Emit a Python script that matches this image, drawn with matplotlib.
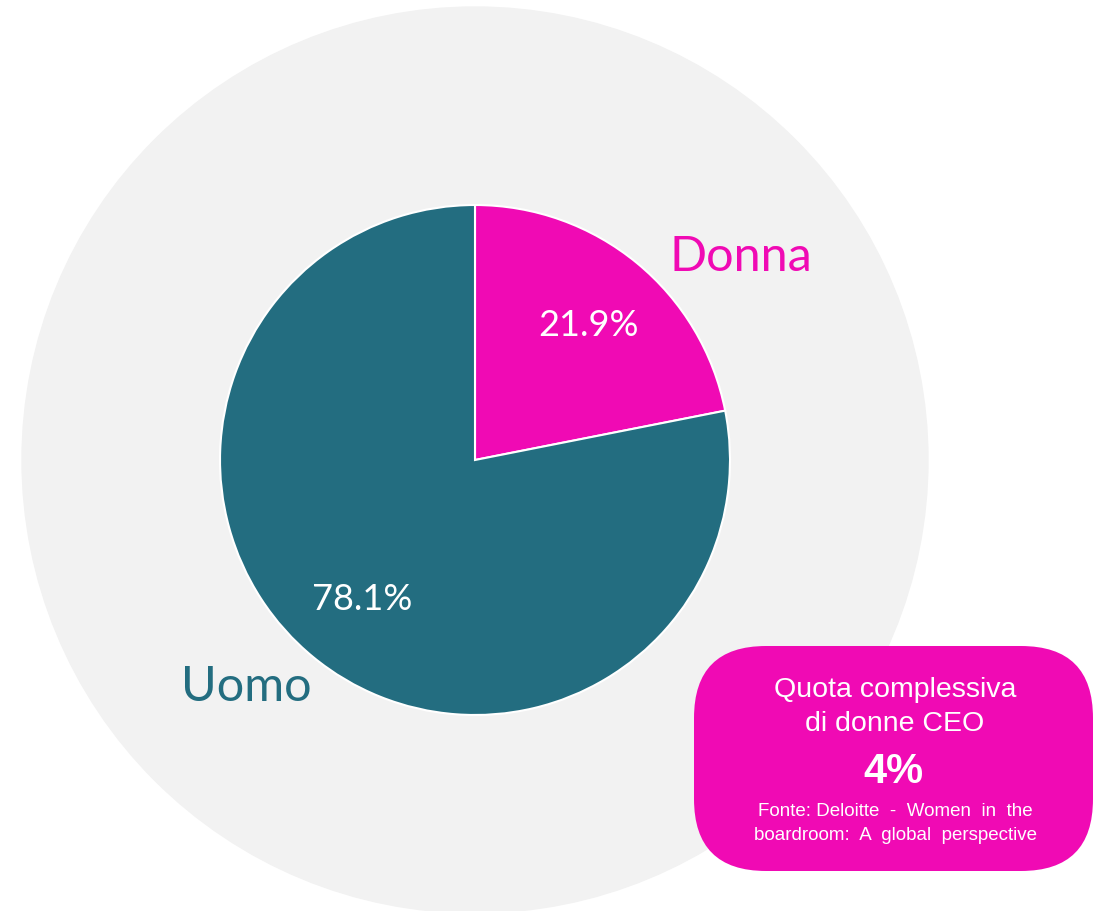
import matplotlib.pyplot as plt
from matplotlib.patches import Circle, FancyBboxPatch

# dati
labels = ["Donna", "Uomo"]
values = [21.9, 78.1]
pct_labels = ["21.9%", "78.1%"]
colors = ["#F00AB4", "#236D80"]

box_lines = ["Quota complessiva", "di donne CEO"]
box_value = "4%"
box_source = ["Fonte: Deloitte  -  Women  in  the", "boardroom:  A  global  perspective"]

W, H = 1099, 911
fig = plt.figure(figsize=(W / 100, H / 100), dpi=100)
ax = fig.add_axes([0, 0, 1, 1])

def py(y):
    # coordinate y dall'alto (pixel) -> asse
    return H - y

# cerchio di sfondo
ax.add_patch(Circle((475, py(460)), 453, color="#F2F2F2", zorder=0))

# torta
wedges, _ = ax.pie(values, colors=colors, startangle=90, counterclock=False,
                   center=(475, py(460)), radius=255,
                   wedgeprops=dict(edgecolor="white", linewidth=1.5))
ax.set_xlim(0, W)
ax.set_ylim(0, H)
ax.set_aspect("equal")
ax.axis("off")

font_lab = ["Lato", "DejaVu Sans"]
ax.text(588, py(326), pct_labels[0], color="white", fontsize=26, ha="center", va="center", family=font_lab)
ax.text(362, py(600), pct_labels[1], color="white", fontsize=26, ha="center", va="center", family=font_lab)
ax.text(741, py(257), labels[0], color=colors[0], fontsize=35, ha="center", va="center", family=font_lab)
ax.text(246, py(687), labels[1], color=colors[1], fontsize=35, ha="center", va="center", family=font_lab)

# riquadro
x0, x1, y0, y1 = 694, 1093, 646, 871
pad = 72
ax.add_patch(FancyBboxPatch((x0 + pad, py(y1) + pad), (x1 - x0) - 2 * pad, (y1 - y0) - 2 * pad,
                            boxstyle="round,pad=%d" % pad, facecolor=colors[0],
                            edgecolor="none", zorder=3))
font_box = ["Liberation Sans", "DejaVu Sans"]
ax.text(895, py(690), box_lines[0], color="white", fontsize=20.5, ha="center", va="center", family=font_box, zorder=4)
ax.text(895, py(724), box_lines[1], color="white", fontsize=20.5, ha="center", va="center", family=font_box, zorder=4)
ax.text(893, py(772), box_value, color="white", fontsize=30, fontweight="bold", ha="center", va="center", family=font_box, zorder=4)
ax.text(895, py(812), box_source[0], color="white", fontsize=13.5, ha="center", va="center", family=font_box, zorder=4)
ax.text(895, py(836), box_source[1], color="white", fontsize=13.5, ha="center", va="center", family=font_box, zorder=4)

fig.savefig("out.png", dpi=100, facecolor="white")
